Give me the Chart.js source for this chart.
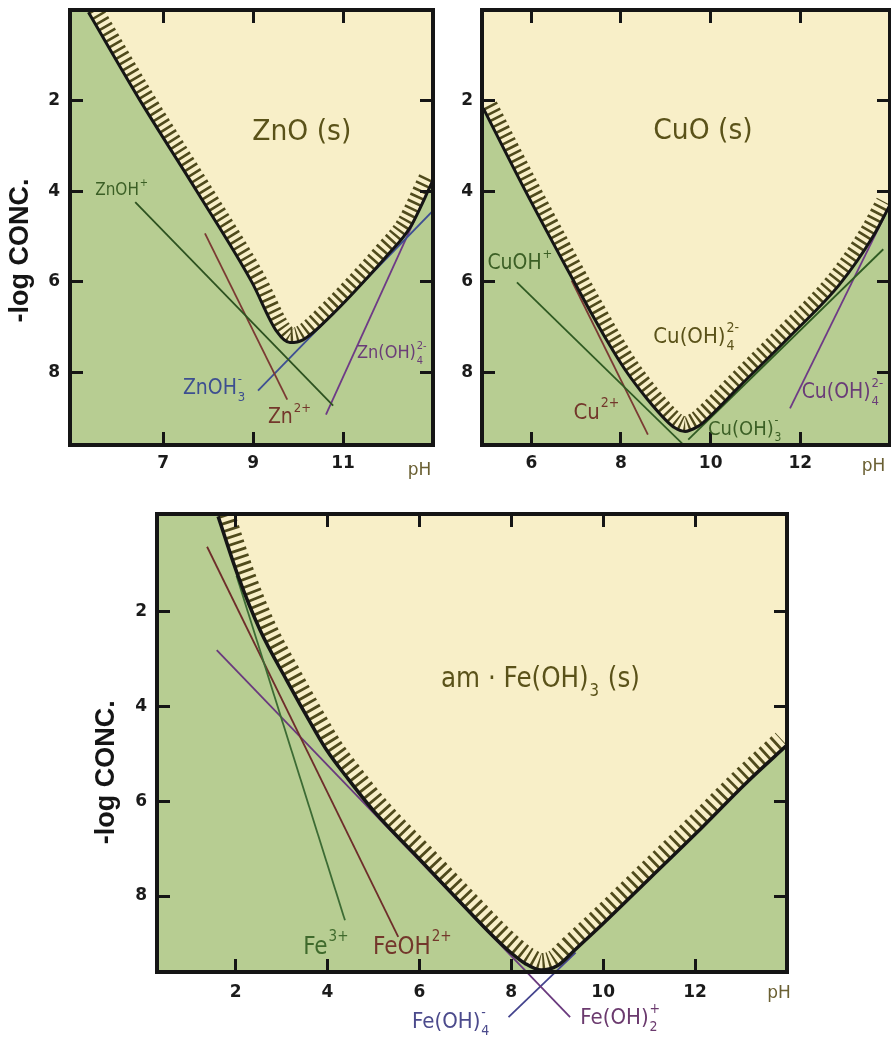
<!DOCTYPE html>
<html>
<head>
<meta charset="utf-8">
<script src="https://cdn.jsdelivr.net/npm/chart.js@4.4.1/dist/chart.umd.min.js"></script>
<style>
  html, body { margin: 0; padding: 0; background: #fff; }
  body { width: 891px; height: 1038px; position: relative; overflow: hidden; }
  canvas { position: absolute; }
</style>
</head>
<body>
<canvas id="znChart" width="445" height="485" style="left:0px;top:0px"></canvas>
<canvas id="cuChart" width="451" height="485" style="left:440px;top:0px"></canvas>
<canvas id="feChart" width="710" height="538" style="left:90px;top:500px"></canvas>
<script>
// axis ticks
const yTicks = [2, 4, 6, 8];
const znTicksX = [7, 9, 11];
const cuTicksX = [6, 8, 10, 12];
const feTicksX = [2, 4, 6, 8, 10, 12];

// ZnO (s): [pH, -log conc]
const znCurve = [[5.34, 0.05], [6.49, 2.0], [7.75, 4.0], [8.97, 6.0], [9.53, 7.1], [9.82, 7.34],
  [10.11, 7.28], [10.78, 6.7], [11.53, 5.92], [11.98, 5.42], [12.49, 4.8], [13.0, 3.76]];
const znOHplus = [[6.38, 4.24], [10.78, 8.73]];
const znZn2 = [[7.93, 4.93], [9.76, 8.6]];
const znOH3 = [[9.11, 8.4], [13.0, 4.43]];
const znOH4 = [[10.62, 8.93], [12.98, 3.78]];

// CuO (s)
const cuCurve = [[4.93, 2.17], [5.83, 3.92], [6.79, 5.7], [7.3, 6.62], [7.69, 7.3], [8.1, 7.95], [8.58, 8.58],
  [9.0, 9.05], [9.2, 9.22], [9.43, 9.3], [9.7, 9.2], [9.84, 9.1], [10.65, 8.3], [11.77, 7.2], [12.88, 6.05],
  [13.62, 5.0], [14.0, 4.3]];
const cuOHplus = [[5.68, 6.01], [9.39, 9.59]];
const cuCu2 = [[6.9, 5.97], [8.6, 9.37]];
const cuOH3 = [[9.5, 9.48], [13.85, 5.28]];
const cuOH4 = [[11.77, 8.79], [13.95, 4.4]];

// am-Fe(OH)3 (s)
const feCurve = [[1.62, 0], [2.06, 1.27], [2.53, 2.39], [3.11, 3.45], [3.69, 4.45], [4.0, 4.95], [4.4, 5.47],
  [5.0, 6.2], [6.0, 7.22], [7.0, 8.24], [7.6, 8.84], [8.0, 9.2], [8.3, 9.42], [8.65, 9.56], [9.0, 9.47],
  [9.4, 9.12], [10.0, 8.58], [11.02, 7.62], [12.0, 6.7], [13.13, 5.6], [14.0, 4.82]];
const feFe3 = [[2.02, 1.25], [4.38, 8.51]];
const feFeOH2 = [[1.38, 0.64], [5.54, 8.86]];
const feOH2 = [[1.59, 2.82], [9.28, 10.55]];
const feOH4 = [[7.94, 10.55], [9.4, 9.19]];

const INK = '#151515';
const GREEN_BG = '#b7cd92';
const CREAM = '#f8efc8';
const HATCH = '#4f4a1c';
const OLIVE = '#5a5219';

function pts(pairs) {
  return pairs.map(p => ({ x: p[0], y: p[1] }));
}

// green plot background
const areaBg = {
  id: 'areaBg',
  beforeDatasetsDraw(chart) {
    const { ctx, chartArea: a } = chart;
    ctx.save();
    ctx.fillStyle = GREEN_BG;
    ctx.fillRect(a.left, a.top, a.right - a.left, a.bottom - a.top);
    ctx.restore();
  }
};

// keep the hatch strokes on the solid side of the curve
const hatchClip = {
  id: 'hatchClip',
  beforeDatasetDraw(chart, args) {
    if (!chart.data.datasets[args.index].hatch) return;
    const ctx = chart.ctx;
    const line = args.meta.dataset;
    const p = args.meta.data;
    const top = chart.chartArea.top - 100;
    ctx.save();
    ctx.beginPath();
    line.path(ctx);
    ctx.lineTo(p[p.length - 1].x, top);
    ctx.lineTo(p[0].x, top);
    ctx.closePath();
    ctx.clip();
  },
  afterDatasetDraw(chart, args) {
    if (chart.data.datasets[args.index].hatch) chart.ctx.restore();
  }
};

function drawLabel(ctx, px, py, l) {
  const size = l.size;
  ctx.save();
  ctx.translate(px, py);
  ctx.scale(l.sx || 0.9, 1);
  ctx.fillStyle = l.color;
  ctx.textBaseline = 'middle';
  ctx.textAlign = 'left';
  let cx = 0;
  l.parts.forEach(p => {
    if (typeof p === 'string') {
      ctx.font = size + 'px "DejaVu Sans"';
      ctx.fillText(p, cx, 0);
      cx += ctx.measureText(p).width;
    } else {
      const s = Math.round(size * 0.62);
      ctx.font = s + 'px "DejaVu Sans"';
      let w = 0;
      if (p.sup) { ctx.fillText(p.sup, cx + 1, -size * 0.42); w = Math.max(w, ctx.measureText(p.sup).width); }
      if (p.sub) { ctx.fillText(p.sub, cx + 1, size * 0.4); w = Math.max(w, ctx.measureText(p.sub).width); }
      cx += w + 2;
    }
  });
  ctx.restore();
}

const panelText = {
  id: 'panelText',
  afterDraw(chart, args, opts) {
    const { ctx, scales: { x, y } } = chart;
    (opts.labels || []).forEach(l => drawLabel(ctx, x.getPixelForValue(l.x), y.getPixelForValue(l.y), l));
    if (opts.yTitle) {
      ctx.save();
      ctx.translate(chart.chartArea.left + opts.yTitle.dx, y.getPixelForValue(opts.yTitle.value));
      ctx.rotate(-Math.PI / 2);
      ctx.font = 'bold 27px "Liberation Sans"';
      ctx.fillStyle = INK;
      ctx.textAlign = 'center';
      ctx.textBaseline = 'middle';
      ctx.fillText('-log CONC.', 0, 0);
      ctx.restore();
    }
  }
};

function axis(pos, min, max, ticks, size, showLabels, pad) {
  const horiz = pos === 'top' || pos === 'bottom';
  return {
    type: 'linear', position: pos, min: min, max: max, reverse: !horiz,
    afterBuildTicks: s => { s.ticks = ticks.map(v => ({ value: v })); },
    afterFit: s => {
      if (horiz) s.height = size; else s.width = size;
      s.paddingTop = 0; s.paddingBottom = 0; s.paddingLeft = 0; s.paddingRight = 0;
    },
    grid: { drawOnChartArea: false, drawTicks: true, tickLength: -13, color: INK, lineWidth: 3, z: 1 },
    border: { display: true, width: 4, color: INK, z: 1 },
    ticks: {
      display: showLabels, padding: pad, color: '#1b1b1b', autoSkip: false, maxRotation: 0,
      font: { family: 'DejaVu Sans', weight: 'bold', size: 17 }
    }
  };
}

function drawPanel(id, p) {
  const smooth = { pointRadius: 0, cubicInterpolationMode: 'monotone' };
  const datasets = [
    Object.assign({ data: pts(p.curve), borderColor: INK, borderWidth: p.curveWidth, fill: false }, smooth),
    ...p.species.map(s => ({
      data: pts(s.data), borderColor: s.color, borderWidth: 1.8, fill: false, pointRadius: 0,
      clip: s.open ? false : 0
    })),
    Object.assign({ data: pts(p.curve), hatch: true, borderColor: HATCH, borderWidth: p.hatchWidth,
      borderDash: p.hatchDash, borderCapStyle: 'butt', borderJoinStyle: 'bevel',
      backgroundColor: CREAM, fill: 'end', clip: 0 }, smooth)
  ];
  new Chart(document.getElementById(id), {
    type: 'line',
    data: { datasets: datasets },
    options: {
      responsive: false,
      animation: false,
      events: [],
      layout: { padding: 0 },
      plugins: {
        legend: { display: false },
        tooltip: { enabled: false },
        panelText: { labels: p.labels, yTitle: p.yTitle }
      },
      scales: {
        x: axis('bottom', p.xMin, p.xMax, p.xTicks, p.bottom, true, p.xPad),
        x2: axis('top', p.xMin, p.xMax, p.xTicks, p.top, false, 0),
        y: axis('left', p.yMin, p.yMax, yTicks, p.left, true, p.yPad),
        y2: axis('right', p.yMin, p.yMax, yTicks, p.right, false, 0)
      }
    },
    plugins: [areaBg, hatchClip, panelText]
  });
}

drawPanel('znChart', {
  curve: znCurve, curveWidth: 3, hatchWidth: 30, hatchDash: [2.6, 4],
  species: [
    { data: znOHplus, color: '#2d5220' },
    { data: znZn2, color: '#7b3a33' },
    { data: znOH3, color: '#3e4f93' },
    { data: znOH4, color: '#6e3a86' }
  ],
  xMin: 4.93, xMax: 13.0, yMin: 0, yMax: 9.6, xTicks: znTicksX,
  left: 70, right: 12, top: 10, bottom: 40, xPad: 21, yPad: 23,
  yTitle: { dx: -49, value: 5.31 },
  labels: [
    { x: 8.98, y: 2.7, parts: ['ZnO (s)'], color: OLIVE, size: 28, sx: 0.95 },
    { x: 5.49, y: 3.98, parts: ['ZnOH', { sup: '+' }], color: '#3b5f25', size: 17 },
    { x: 7.44, y: 8.36, parts: ['ZnOH', { sub: '3', sup: '-' }], color: '#3d4f90', size: 21 },
    { x: 9.33, y: 9.0, parts: ['Zn', { sup: '2+' }], color: '#73372b', size: 21 },
    { x: 11.31, y: 7.58, parts: ['Zn(OH)', { sub: '4', sup: '2-' }], color: '#6a3c78', size: 18 },
    { x: 12.44, y: 10.17, parts: ['pH'], color: '#6b6033', size: 17, sx: 1 }
  ]
});

drawPanel('cuChart', {
  curve: cuCurve, curveWidth: 3, hatchWidth: 30, hatchDash: [2.6, 4],
  species: [
    { data: cuOHplus, color: '#2f5a22' },
    { data: cuCu2, color: '#7b3a33' },
    { data: cuOH3, color: '#2f5a22' },
    { data: cuOH4, color: '#6e3a86' }
  ],
  xMin: 4.9, xMax: 14.0, yMin: 0, yMax: 9.6, xTicks: cuTicksX,
  left: 42, right: 1, top: 10, bottom: 40, xPad: 21, yPad: 22,
  labels: [
    { x: 8.72, y: 2.68, parts: ['CuO (s)'], color: OLIVE, size: 28, sx: 0.95 },
    { x: 5.02, y: 5.6, parts: ['CuOH', { sup: '+' }], color: '#3b5f25', size: 21 },
    { x: 6.94, y: 8.89, parts: ['Cu', { sup: '2+' }], color: '#73372b', size: 22 },
    { x: 9.94, y: 9.26, parts: ['Cu(OH)', { sub: '3', sup: '-' }], color: '#3b5f25', size: 20 },
    { x: 8.72, y: 7.22, parts: ['Cu(OH)', { sub: '4', sup: '2-' }], color: OLIVE, size: 22 },
    { x: 12.03, y: 8.45, parts: ['Cu(OH)', { sub: '4', sup: '2-' }], color: '#6a3c78', size: 21 },
    { x: 13.37, y: 10.08, parts: ['pH'], color: '#6b6033', size: 17, sx: 1 }
  ]
});

drawPanel('feChart', {
  curve: feCurve, curveWidth: 3.5, hatchWidth: 34, hatchDash: [2.8, 4.6],
  species: [
    { data: feFe3, color: '#3c6b34' },
    { data: feFeOH2, color: '#6e2d2a' },
    { data: feOH2, color: '#6a3a7e', open: true },
    { data: feOH4, color: '#44448e', open: true }
  ],
  xMin: 0.29, xMax: 14.0, yMin: -0.05, yMax: 9.6, xTicks: feTicksX,
  left: 67, right: 13, top: 14, bottom: 66, xPad: 23, yPad: 23,
  yTitle: { dx: -50, value: 5.39 },
  labels: [
    { x: 6.47, y: 3.45, parts: ['am · Fe(OH)', { sub: '3' }, ' (s)'], color: OLIVE, size: 28, sx: 0.88 },
    { x: 3.47, y: 9.08, parts: ['Fe', { sup: '3+' }], color: '#3f6a2c', size: 24 },
    { x: 4.99, y: 9.08, parts: ['FeOH', { sup: '2+' }], color: '#73372b', size: 24 },
    { x: 5.84, y: 10.66, parts: ['Fe(OH)', { sub: '4', sup: '-' }], color: '#4b4a8c', size: 22 },
    { x: 9.5, y: 10.58, parts: ['Fe(OH)', { sub: '2', sup: '+' }], color: '#6b3a6e', size: 22 },
    { x: 13.57, y: 10.05, parts: ['pH'], color: '#6b6033', size: 17, sx: 1 }
  ]
});
</script>
</body>
</html>
